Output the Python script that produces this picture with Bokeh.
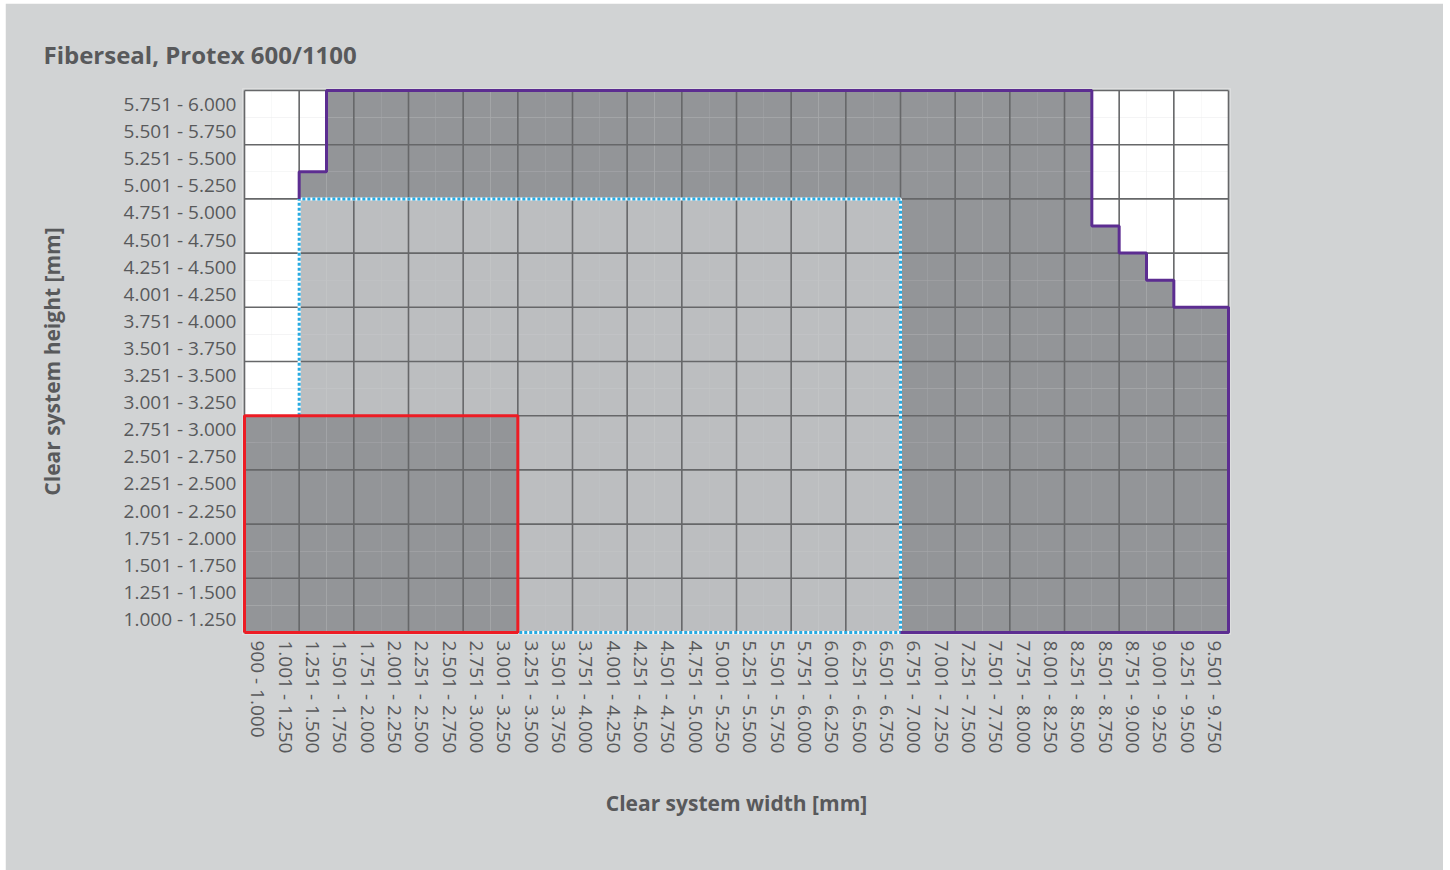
from bokeh.plotting import figure
from bokeh.models import Range1d, FixedTicker, ColumnDataSource, Title
from bokeh.embed import file_html
from bokeh.resources import INLINE

# ---------------- data ----------------
title_text = "Fiberseal, Protex 600/1100"
x_title = "Clear system width [mm]"
y_title = "Clear system height [mm]"

width_labels = [
    "900 - 1.000", "1.001 - 1.250", "1.251 - 1.500", "1.501 - 1.750", "1.751 - 2.000",
    "2.001 - 2.250", "2.251 - 2.500", "2.501 - 2.750", "2.751 - 3.000", "3.001 - 3.250",
    "3.251 - 3.500", "3.501 - 3.750", "3.751 - 4.000", "4.001 - 4.250", "4.251 - 4.500",
    "4.501 - 4.750", "4.751 - 5.000", "5.001 - 5.250", "5.251 - 5.500", "5.501 - 5.750",
    "5.751 - 6.000", "6.001 - 6.250", "6.251 - 6.500", "6.501 - 6.750", "6.751 - 7.000",
    "7.001 - 7.250", "7.251 - 7.500", "7.501 - 7.750", "7.751 - 8.000", "8.001 - 8.250",
    "8.251 - 8.500", "8.501 - 8.750", "8.751 - 9.000", "9.001 - 9.250", "9.251 - 9.500",
    "9.501 - 9.750",
]
height_labels = [
    "1.000 - 1.250", "1.251 - 1.500", "1.501 - 1.750", "1.751 - 2.000", "2.001 - 2.250",
    "2.251 - 2.500", "2.501 - 2.750", "2.751 - 3.000", "3.001 - 3.250", "3.251 - 3.500",
    "3.501 - 3.750", "3.751 - 4.000", "4.001 - 4.250", "4.251 - 4.500", "4.501 - 4.750",
    "4.751 - 5.000", "5.001 - 5.250", "5.251 - 5.500", "5.501 - 5.750", "5.751 - 6.000",
]
# maximum clear height (mm) of the overall envelope for each width class
max_height_by_width = [
    3000, 3000, 5250, 6000, 6000, 6000, 6000, 6000, 6000, 6000,
    6000, 6000, 6000, 6000, 6000, 6000, 6000, 6000, 6000, 6000,
    6000, 6000, 6000, 6000, 6000, 6000, 6000, 6000, 6000, 6000,
    6000, 4750, 4500, 4250, 4000, 4000,
]
# red zone: width <= 3250, height <= 3000
red_max_width = 3250
red_max_height = 3000
# dotted zone (light fill): width 1251 - 6750, height <= 5000
light_min_width = 1251
light_max_width = 6750
light_max_height = 5000

# ---------------- styles ----------------
BG = "#d1d3d4"
DARK = "#939598"
LIGHT = "#bcbec0"
WHITE = "#ffffff"
GRID = "#666769"
TEXT = "#58595b"
RED = "#ed1c24"
PURPLE = "#5c2d91"
CYAN = "#27aae1"


def bounds(s):
    lo, hi = s.split(" - ")
    return int(lo.replace(".", "")), int(hi.replace(".", ""))


wb = [bounds(s) for s in width_labels]
hb = [bounds(s) for s in height_labels]
n_w, n_h = len(width_labels), len(height_labels)

left, right, bottom, top, color = [], [], [], [], []
for i, (wlo, whi) in enumerate(wb):
    for j, (hlo, hhi) in enumerate(hb):
        in_env = hhi <= max_height_by_width[i]
        in_red = whi <= red_max_width and hhi <= red_max_height
        in_light = wlo >= light_min_width and whi <= light_max_width and hhi <= light_max_height
        if in_red:
            c = DARK
        elif in_light:
            c = LIGHT
        elif in_env:
            c = DARK
        else:
            c = WHITE
        left.append(i); right.append(i + 1); bottom.append(j); top.append(j + 1); color.append(c)

cells = ColumnDataSource(dict(left=left, right=right, bottom=bottom, top=top, color=color))

rx = sum(1 for lo, hi in wb if hi <= red_max_width)
ry = sum(1 for lo, hi in hb if hi <= red_max_height)
lx0 = next(i for i, (lo, hi) in enumerate(wb) if lo >= light_min_width)
lx1 = max(i for i, (lo, hi) in enumerate(wb) if hi <= light_max_width) + 1
ly1 = sum(1 for lo, hi in hb if hi <= light_max_height)
env_rows = [sum(1 for lo, hi in hb if hi <= m) for m in max_height_by_width]

# ---------------- figure ----------------
pad_x = n_w * 2.0 / 984
pad_y = n_h * 2.0 / 542
p = figure(width=1438, height=867,
           x_range=Range1d(-pad_x, n_w + pad_x), y_range=Range1d(-pad_y, n_h + pad_y),
           output_backend="svg", toolbar_location=None, tools="",
           min_border_left=237, min_border_right=213, min_border_top=85, min_border_bottom=236)
p.margin = (3, 0, 0, 5)
p.background_fill_color = BG
p.border_fill_color = BG
p.outline_line_color = None
p.grid.visible = False

p.quad(left="left", right="right", bottom="bottom", top="top", fill_color="color",
       line_color=None, source=cells)

# grid every two classes
gx = list(range(0, n_w + 1, 2))
gy = list(range(0, n_h + 1, 2))
p.segment(x0=gx, y0=[0] * len(gx), x1=gx, y1=[n_h] * len(gx), line_color=GRID, line_width=1.6)
p.segment(x0=[0] * len(gy), y0=gy, x1=[n_w] * len(gy), y1=gy, line_color=GRID, line_width=1.6)

# dotted zone outline
cx = [lx0, lx0, lx1, lx1, rx]
cy = [ry, ly1, ly1, 0, 0]
p.line(cx, cy, line_color=WHITE, line_width=3)
p.line(cx, cy, line_color=CYAN, line_width=3, line_dash="3 2")

# envelope outline
px = [lx0]
py = [ly1]
for i in range(lx0, n_w):
    px += [i, i + 1]
    py += [env_rows[i], env_rows[i]]
px += [n_w, lx1]
py += [0, 0]
p.line(px, py, line_color=PURPLE, line_width=3)

# red zone
p.line([0, 0, rx, rx, 0], [0, ry, ry, 0, 0], line_color=RED, line_width=3)

# axes
p.xaxis.ticker = FixedTicker(ticks=[i + 0.5 for i in range(n_w)])
p.xaxis.major_label_overrides = {i + 0.5: lab for i, lab in enumerate(width_labels)}
p.yaxis.ticker = FixedTicker(ticks=[j + 0.5 for j in range(n_h)])
p.yaxis.major_label_overrides = {j + 0.5: lab for j, lab in enumerate(height_labels)}
p.xaxis.major_label_orientation = "vertical"
for ax in (p.xaxis, p.yaxis):
    ax.axis_line_color = None
    ax.major_tick_line_color = None
    ax.minor_tick_line_color = None
    ax.major_tick_out = 0
    ax.major_tick_in = 0
    ax.major_label_standoff = 6
    ax.major_label_text_font = "Open Sans"
    ax.major_label_text_font_size = "19px"
    ax.major_label_text_color = TEXT
    ax.axis_label_text_font = "Open Sans"
    ax.axis_label_text_font_style = "bold"
    ax.axis_label_text_font_size = "21px"
    ax.axis_label_text_color = TEXT
p.xaxis.axis_label = x_title
p.yaxis.axis_label = y_title
p.xaxis.axis_label_standoff = 33
p.yaxis.axis_label_standoff = 55

p.add_layout(Title(text=title_text, align="left", offset=-199, standoff=36,
                   text_font="Open Sans", text_font_style="bold", text_font_size="24px",
                   text_color=TEXT), "above")

open("out.html", "w").write(file_html(p, INLINE))
